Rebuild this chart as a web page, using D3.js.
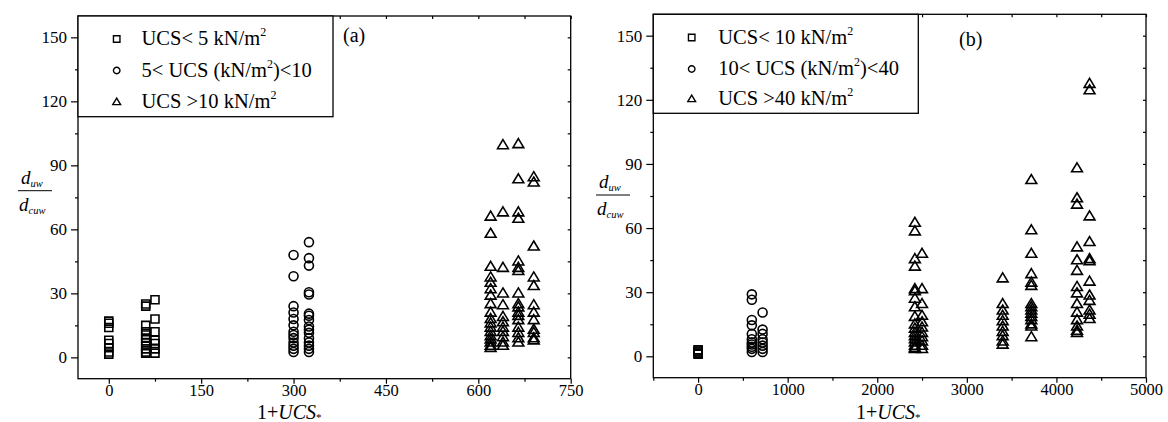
<!DOCTYPE html>
<html>
<head>
<meta charset="utf-8">
<script src="https://cdn.jsdelivr.net/npm/d3@7"></script>
<style>
body { margin: 0; background: #fff; }
svg { display: block; }
text { font-family: "Liberation Serif", "Times New Roman", serif; fill: #000; }
</style>
</head>
<body>
<svg id="chart" width="1168" height="422"></svg>
<script>
// ticks
const yTicks = [0, 30, 60, 90, 120, 150]
const yMinor = [15, 45, 75, 105, 135]
const aXTicks = [0, 150, 300, 450, 600, 750]
const aXMinor = [75, 225, 375, 525, 675]
const bXTicks = [0, 1000, 2000, 3000, 4000, 5000]
const bXMinor = [-500, 500, 1500, 2500, 3500, 4500]

// legend labels: [before, superscript, after]
const aLegend = [["UCS< 5 kN/m", "2", ""], ["5< UCS (kN/m", "2", ")<10"], ["UCS >10 kN/m", "2", ""]]
const bLegend = [["UCS< 10 kN/m", "2", ""], ["10< UCS (kN/m", "2", ")<40"], ["UCS >40 kN/m", "2", ""]]

// panel (a) columns, x = 1+UCS*, y = duw/dcuw
const aSqX = [0, 60, 75]
const aSqY = [
    [17, 16, 14, 8, 6.5, 4.5, 2.5, 1.5],
    [25, 24, 15, 12, 10.5, 9, 7, 5.5, 4, 2.5, 2],
    [27, 18, 12, 8, 6.5, 4, 2]
]
const aCirX = [300, 325]
const aCirY = [
    [48, 38, 24, 21, 18, 15, 12, 10.5, 9, 7, 5.5, 4, 2.5],
    [54, 46.5, 43, 30.5, 29.5, 20.5, 19.5, 17.5, 14.5, 13, 11.5, 9, 7, 5.5, 4, 2.5]
]
const aTriX = [620, 640, 665, 690]
const aTriY = [
    [66, 58, 42.5, 37.5, 35, 32, 29, 25, 21, 18, 16, 14, 12, 10, 8.5, 7, 5.5, 4.5],
    [99.5, 68, 42, 30, 24.5, 19, 16.5, 14, 12, 9.5, 7, 5.5],
    [100, 83.5, 68, 65, 45, 42, 40.5, 30, 25, 23.5, 21, 19.5, 17.5, 14, 11.5, 9, 7],
    [84.5, 82, 52, 37.5, 33.5, 24.5, 21, 17.5, 13, 11.5, 9, 8]
]

// panel (b)
const bSqX = [0]
const bSqY = [[3, 2.5, 2, 1.5, 1]]
const bCirX = [600, 720]
const bCirY = [
    [29, 26.5, 17, 14.5, 10.5, 8, 6.5, 5.5, 4.5, 3.5, 2],
    [20.5, 12.5, 10.5, 8, 6.5, 5, 3.5, 2]
]
const bTriX = [2420, 2500, 3400, 3720, 4230, 4370]
const bTriY = [
    [62.5, 58.5, 45.5, 42, 31.5, 30.5, 27, 23, 18.5, 15, 13, 11, 9.5, 8, 6.5, 5, 4, 3.5],
    [48, 31.5, 24.5, 19, 16, 13.5, 11, 9, 7, 5, 3.5],
    [36.5, 24.5, 21.5, 19, 16.5, 14, 11.5, 9.5, 7, 5.5],
    [82.5, 59, 48, 38.5, 34.5, 33, 24.5, 23, 21.5, 20, 18.5, 17, 15, 14, 9],
    [88, 74, 71, 51, 45, 40, 32.5, 29.5, 24.5, 20.5, 17, 14, 12, 11],
    [127.5, 124.5, 65.5, 53.5, 45.5, 44.5, 35, 28.5, 26, 21.5, 19.5, 17.5]
]

const svg = d3.select("#chart")
const FontSize = 17

function flat(xs, ys) {
    const out = []
    xs.forEach((xv, i) => ys[i].forEach(yv => out.push([xv, yv])))
    return out
}

// marker shape path, centered at 0,0
function marker(kind, s) {
    if (kind == "square") return `M${-s/2},${-s/2}h${s}v${s}h${-s}z`
    if (kind == "circle") return `M${s/2},0A${s/2},${s/2} 0 1,1 ${-s/2},0A${s/2},${s/2} 0 1,1 ${s/2},0z`
    const w = s * 1.2, h = s
    return `M0,${-h*0.6}L${w/2},${h*0.4}L${-w/2},${h*0.4}z`
}

function styleAxis(sel) {
    sel.select(".domain").remove()
    sel.selectAll("line").attr("stroke", "#000").attr("stroke-width", 1.2)
    sel.selectAll("text").attr("font-size", FontSize).attr("font-family", "Liberation Serif, serif")
}

function DrawPanel(p) {
    const x = d3.scaleLinear().domain(p.xDomain).range([p.left, p.right])
    const y = d3.scaleLinear().domain([-10, 160]).range([p.bottom, p.top])
    const g = svg.append("g")

    // axes
    g.append("g").attr("transform", `translate(0,${p.bottom})`)
        .call(d3.axisBottom(x).tickValues(p.xTicks).tickSize(5).tickPadding(1).tickFormat(d3.format("d")))
        .call(styleAxis)
        .selectAll("text").attr("font-size", 16.5)
    g.append("g").attr("transform", `translate(0,${p.bottom})`)
        .call(d3.axisBottom(x).tickValues(p.xMinor).tickSize(3).tickFormat(""))
        .call(styleAxis)
    g.append("g").attr("transform", `translate(${p.left},0)`)
        .call(d3.axisLeft(y).tickValues(yTicks).tickSize(7).tickPadding(4).tickFormat(d3.format("d")))
        .call(styleAxis)
    g.append("g").attr("transform", `translate(${p.left},0)`)
        .call(d3.axisLeft(y).tickValues(yMinor).tickSize(3).tickFormat(""))
        .call(styleAxis)
    // inward ticks on top and right
    g.append("g").attr("transform", `translate(0,${p.top})`)
        .call(d3.axisTop(x).tickValues(p.xTicks.concat(p.xMinor)).tickSize(-3).tickFormat(""))
        .call(styleAxis)
    g.append("g").attr("transform", `translate(${p.right},0)`)
        .call(d3.axisRight(y).tickValues(yTicks.concat(yMinor)).tickSize(-3).tickFormat(""))
        .call(styleAxis)

    g.append("rect")
        .attr("x", p.left).attr("y", p.top)
        .attr("width", p.right - p.left).attr("height", p.bottom - p.top)
        .attr("fill", "none").attr("stroke", "#000").attr("stroke-width", 1.3)

    // points
    const series = [["square", p.sq, 8], ["circle", p.cir, 9], ["triangle", p.tri, 9]]
    for (const [kind, pts, size] of series) {
        g.append("g").selectAll("path").data(pts).join("path")
            .attr("d", marker(kind, size))
            .attr("transform", d => `translate(${x(d[0])},${y(d[1])})`)
            .attr("fill", "none").attr("stroke", "#000").attr("stroke-width", 1.6)
    }

    // legend
    const lg = g.append("g")
    lg.append("rect")
        .attr("x", p.left).attr("y", p.top)
        .attr("width", p.legW).attr("height", p.legH)
        .attr("fill", "#fff").attr("stroke", "#000").attr("stroke-width", 1.3)
    const kinds = ["square", "circle", "triangle"]
    p.legend.forEach((lab, i) => {
        const by = p.legY[i]
        lg.append("path")
            .attr("d", marker(kinds[i], 6.5))
            .attr("transform", `translate(${p.legMx},${by - 6})`)
            .attr("fill", "none").attr("stroke", "#000").attr("stroke-width", 1.4)
        const t = lg.append("text").attr("x", p.legTx).attr("y", by).attr("font-size", 20.5)
        t.append("tspan").text(lab[0])
        t.append("tspan").text(lab[1]).attr("font-size", 12).attr("dy", -9)
        t.append("tspan").text(lab[2]).attr("dy", 9)
    })

    // panel tag
    g.append("text").attr("x", p.tagX).attr("y", p.tagY).attr("font-size", 20).text(p.tag)

    // x label 1+UCS*
    const xl = g.append("text").attr("x", p.xlabX).attr("y", p.xlabY).attr("font-size", 20)
    xl.append("tspan").text("1+")
    xl.append("tspan").text("UCS").attr("font-style", "italic")
    xl.append("tspan").text("*").attr("font-size", 11).attr("dy", 2)

    // y label duw / dcuw
    const yl = g.append("g")
    const top = yl.append("text").attr("x", p.ylabX + 3).attr("y", p.ylabY - 7).attr("font-size", 19).attr("font-style", "italic")
    top.append("tspan").text("d")
    top.append("tspan").text("uw").attr("font-size", 10.5).attr("dy", 3)
    yl.append("line")
        .attr("x1", p.ylabX).attr("x2", p.ylabX + 34)
        .attr("y1", p.ylabY).attr("y2", p.ylabY)
        .attr("stroke", "#000").attr("stroke-width", 1)
    const bot = yl.append("text").attr("x", p.ylabX + 1).attr("y", p.ylabY + 20).attr("font-size", 19).attr("font-style", "italic")
    bot.append("tspan").text("d")
    bot.append("tspan").text("cuw").attr("font-size", 10.5).attr("dy", 3)
}

DrawPanel({
    left: 78, right: 570.7, top: 16, bottom: 378.7,
    xDomain: [-50, 750], xTicks: aXTicks, xMinor: aXMinor,
    sq: flat(aSqX, aSqY), cir: flat(aCirX, aCirY), tri: flat(aTriX, aTriY),
    legend: aLegend, legW: 255, legH: 100.7, legMx: 116.7, legTx: 141.5, legY: [45, 76.5, 108],
    tag: "(a)", tagX: 343, tagY: 42,
    xlabX: 257, xlabY: 418.5,
    ylabX: 18, ylabY: 190.7
})

DrawPanel({
    left: 653.3, right: 1146, top: 14.3, bottom: 377.7,
    xDomain: [-500, 5000], xTicks: bXTicks, xMinor: bXMinor,
    sq: flat(bSqX, bSqY), cir: flat(bCirX, bCirY), tri: flat(bTriX, bTriY),
    legend: bLegend, legW: 265, legH: 99, legMx: 691.7, legTx: 718.3, legY: [43.5, 75, 105],
    tag: "(b)", tagX: 959, tagY: 46,
    xlabX: 856, xlabY: 418.5,
    ylabX: 596, ylabY: 195
})
</script>
</body>
</html>
